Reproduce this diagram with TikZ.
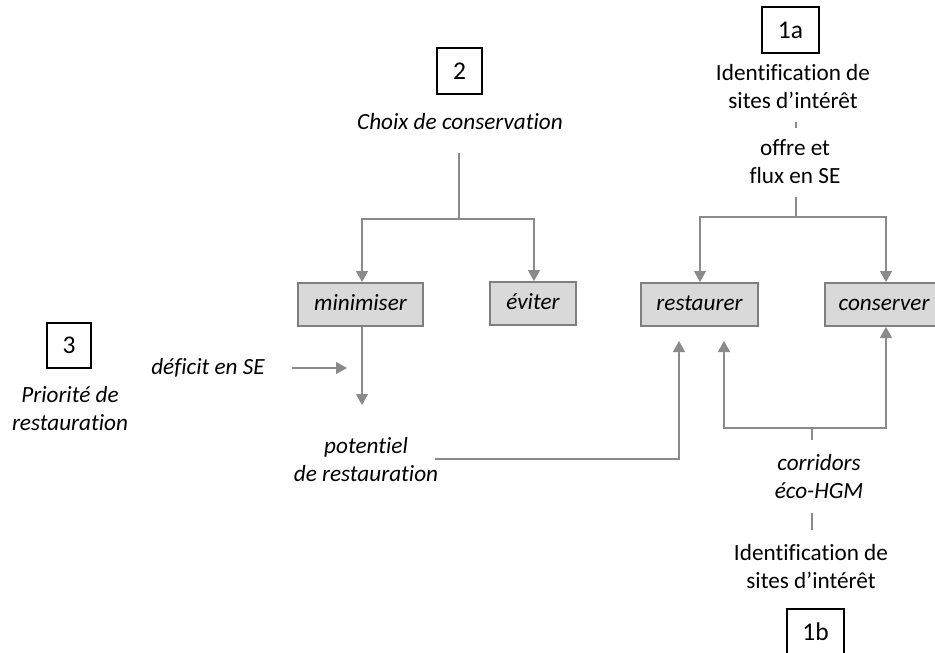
\documentclass[tikz,border=0pt]{standalone}
\usepackage{fontspec}
\setmainfont{Carlito}[Ligatures=NoCommon]
\usetikzlibrary{arrows.meta}
\definecolor{linegray}{HTML}{8A8A8A}
\definecolor{boxfill}{HTML}{D9D9D9}
\definecolor{boxedge}{HTML}{7F7F7F}
\tikzset{
  txt/.style={align=center, inner sep=0pt, font=\fontsize{23.2}{28}\selectfont},
  itxt/.style={txt, font=\fontsize{23.2}{28}\selectfont\itshape},
  numbox/.style={draw=black, line width=1.4pt, fill=white, minimum width=#1, minimum height=46pt, inner sep=0pt, text height=16pt, text depth=0pt, font=\fontsize{25.5}{26}\selectfont},
  actbox/.style={draw=boxedge, line width=2pt, fill=boxfill, minimum width=#1, minimum height=43pt, inner sep=0pt, text height=16pt, text depth=4pt, font=\fontsize{23.2}{24}\selectfont\itshape},
  conn/.style={draw=linegray, line width=1.3pt},
  arr/.style={conn, -{Triangle[width=12pt,length=11pt]}},
}
\begin{document}
\begin{tikzpicture}[x=1pt,y=-1pt]
\useasboundingbox (0,0) rectangle (935,653);
\clip (0,0) rectangle (935,653);

% --- branch 1a : offer and flows ---
\node[numbox=57pt] (b1a) at (790.5,30) {1a};
\node[txt] (id1) at (793,87) {Identification de\\sites d’intérêt};
\coordinate (tickA1) at (796,122);
\coordinate (tickA2) at (796,128);
\draw[conn] (tickA1) -- (tickA2);
\node[txt] (offre) at (795,162) {offre et\\flux en SE};
\coordinate (offreBot) at (796,197);
\coordinate (forkA) at (796,217);

% --- branch 2 : conservation choice ---
\node[numbox=45pt] (b2) at (459.5,71) {2};
\node[itxt] (choix) at (460,122) {Choix de conservation};
\coordinate (choixBot) at (459,153);
\coordinate (forkB) at (459,219);

% --- action boxes ---
\node[actbox=125pt] (mini) at (360.5,304.5) {minimiser};
\node[actbox=86pt]  (evit) at (533,303.5) {éviter};
\node[actbox=117pt] (rest) at (699.5,304.5) {restaurer};
\node[actbox=118pt] (cons) at (884,304.5) {conserver};

% --- branch 3 : restoration priority ---
\node[numbox=44pt, minimum height=45pt] (b3) at (69,345.5) {3};
\node[itxt] (prio) at (70,409) {Priorité de\\restauration};
\node[itxt] (deficit) at (208,368) {déficit en SE};
\coordinate (defA) at (292,368);
\coordinate (defB) at (347,368);
\coordinate (miniTip) at (362,405);
\node[itxt] (pot) at (366,460) {potentiel\\de restauration};
\coordinate (potR) at (435,459);
\coordinate (potC) at (679,459);
\coordinate (restTipA) at (679,341);

% --- branch 1b : eco-HGM corridors ---
\node[itxt] (corr) at (819,477) {corridors\\éco-HGM};
\coordinate (corrTop) at (812,440);
\coordinate (forkC) at (812,428);
\coordinate (restTipB) at (724,341);
\coordinate (corrBot) at (812,513);
\coordinate (id2Top) at (812,530);
\node[txt] (id2) at (811,567) {Identification de\\sites d’intérêt};
\node[numbox=57pt] (b1b) at (815.5,632) {1b};

% connectors of branch 2
\draw[conn] (choixBot) -- (forkB);
\draw[arr] (forkB) -| (mini.north -| 362,0);
\draw[arr] (forkB) -| (evit.north -| 534,0);

% connectors of branch 1a
\draw[conn] (offreBot) -- (forkA);
\draw[arr] (forkA) -| (rest.north -| 700,0);
\draw[arr] (forkA) -| (cons.north -| 886,0);

% connectors of branch 3
\draw[arr] (defA) -- (defB);
\draw[arr] (mini.south -| miniTip) -- (miniTip);
\draw[arr] (potR) -- (potC) -- (restTipA);

% connectors of branch 1b
\draw[conn] (corrTop) -- (forkC);
\draw[arr] (forkC) -| (restTipB);
\draw[arr] (forkC) -| (cons.south -| 886,0);
\draw[conn] (corrBot) -- (id2Top);
\end{tikzpicture}
\end{document}
